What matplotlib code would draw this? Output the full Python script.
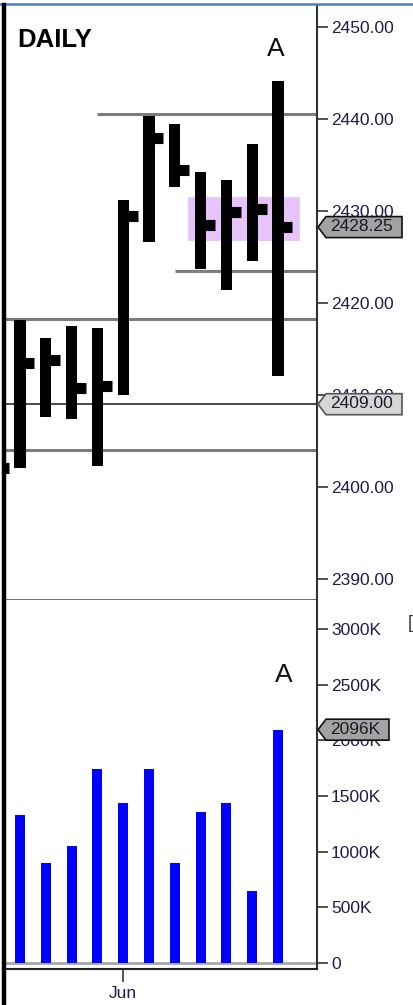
import matplotlib
matplotlib.use("Agg")
import matplotlib.pyplot as plt
from matplotlib.patches import Polygon, Rectangle
from matplotlib.transforms import IdentityTransform
from matplotlib.ticker import FixedLocator, FuncFormatter
from matplotlib.lines import Line2D

plt.rcParams['font.family'] = ['Liberation Sans', 'DejaVu Sans']

# ---- data ----
bar_index = [-1, 0, 1, 2, 3, 4, 5, 6, 7, 8, 9, 10]
highs  = [2404.0, 2418.2, 2416.2, 2417.5, 2417.3, 2431.2, 2440.3, 2439.5, 2434.2, 2433.4, 2437.3, 2444.1]
lows   = [2399.0, 2402.1, 2407.6, 2407.4, 2402.3, 2410.0, 2426.6, 2432.6, 2423.7, 2421.4, 2424.6, 2412.1]
closes = [2402.1, 2413.5, 2413.8, 2410.8, 2411.0, 2429.5, 2437.9, 2434.5, 2428.5, 2429.9, 2430.2, 2428.25]

vol_index = [0, 1, 2, 3, 4, 5, 6, 7, 8, 9, 10]
volumes_k = [1330, 896, 1051, 1742, 1440, 1742, 896, 1359, 1440, 650, 2096]

level_prices = [2440.5, 2423.5, 2418.25, 2404.0]
level_starts = [3, 6, None, None]
pivot_price = 2409.0
zone_low, zone_high = 2426.75, 2431.5
zone_start, zone_end = 6.5, 10.85

price_ticks = [2390, 2400, 2410, 2420, 2430, 2440, 2450]
vol_ticks = [0, 500, 1000, 1500, 2000, 2500, 3000]
xtick_pos = [4]
xtick_labels = ['Jun']

last_close_label = '2428.25'
pivot_label = '2409.00'
last_vol_label = '2096K'

# ---- figure ----
W, H = 414, 1005
fig = plt.figure(figsize=(W / 100, H / 100), dpi=100)
fig.patch.set_facecolor('white')

def px_axes(x0, y0, x1, y1):
    return fig.add_axes([x0 / W, 1 - y1 / H, (x1 - x0) / W, (y1 - y0) / H])

ax = px_axes(5, 5, 317, 600)
axv = px_axes(5, 600, 317, 969)

xlim = (-0.581, 11.51)
tick_color = '#1c1c50'
lab_fs = 12.5

for a in (ax, axv):
    a.set_xlim(*xlim)
    a.set_facecolor('white')
    a.yaxis.tick_right()
    a.tick_params(axis='y', direction='out', length=8, width=1.2, color='#333333',
                  labelsize=lab_fs, labelcolor=tick_color, pad=2)
    for s in ('left', 'top'):
        a.spines[s].set_visible(False)
    a.spines['right'].set_color('#333333')
    a.spines['right'].set_linewidth(1.5)

# ---- price panel ----
ax.set_ylim(2387.72, 2452.39)
ax.yaxis.set_major_locator(FixedLocator(price_ticks))
ax.yaxis.set_major_formatter(FuncFormatter(lambda v, p: f'{v:.2f}'))
ax.set_xticks([])
ax.spines['bottom'].set_color('#555555')
ax.spines['bottom'].set_linewidth(1.2)

ax.add_patch(Rectangle((zone_start, zone_low), zone_end - zone_start, zone_high - zone_low,
                       facecolor='#e6c3fb', edgecolor='none', zorder=1))

for lvl, st in zip(level_prices, level_starts):
    x0 = xlim[0] if st is None else st
    ax.hlines(lvl, x0, xlim[1], color='#7c7c7c', lw=2.2, zorder=2)
ax.hlines(pivot_price, xlim[0], xlim[1], color='#2a2a2a', lw=1.2, zorder=2)

for i, h, l, c in zip(bar_index, highs, lows, closes):
    ax.bar(i, h - l, bottom=l, width=0.43, color='black', zorder=3)
    ax.hlines(c, i, i + 0.56, color='black', lw=8, capstyle='butt', zorder=3)

# ---- volume panel ----
axv.set_ylim(-54, 3261)
axv.yaxis.set_major_locator(FixedLocator(vol_ticks))
axv.yaxis.set_major_formatter(FuncFormatter(lambda v, p: '0' if v == 0 else f'{v:.0f}K'))
axv.bar(vol_index, volumes_k, width=0.39, color='#0000ff', zorder=3)
axv.axhline(0, color='#a8a8a8', lw=2, zorder=2)
axv.spines['top'].set_color('#555555')
axv.spines['top'].set_linewidth(1.0)
axv.spines['bottom'].set_color('#222222')
axv.spines['bottom'].set_linewidth(1.5)
axv.set_xticks(xtick_pos)
axv.set_xticklabels(xtick_labels)
axv.tick_params(axis='x', direction='out', length=9, width=1.2, color='#333333',
                labelsize=lab_fs, labelcolor=tick_color, pad=3)

fig.canvas.draw()

# text annotations (pixel positions from top-left)
fig.text(17 / W, 1 - 40 / H, 'DAILY', fontsize=18.5, fontweight='bold',
         ha='left', va='center', color='black')
fig.text(276 / W, 1 - 49 / H, 'A', fontsize=19, ha='center', va='center', color='#111111')
fig.text(284 / W, 1 - 675 / H, 'A', fontsize=19, ha='center', va='center', color='#111111')
fig.text(408 / W, 1 - 623 / H, '[', fontsize=13, ha='left', va='center', color='#333333')

def flag(axis, yval, text, face, edge, width):
    xr = axis.transAxes.transform((1, 0))[0]
    yc = axis.transData.transform((0, yval))[1]
    hh = 10.5
    verts = [(xr + 1, yc), (xr + 9, yc + hh), (xr + width, yc + hh),
             (xr + width, yc - hh), (xr + 9, yc - hh)]
    fig.add_artist(Polygon(verts, closed=True, facecolor=face, edgecolor=edge, lw=1.2,
                           transform=IdentityTransform(), zorder=5))
    t = fig.text(0, 0, text, fontsize=lab_fs, color='#1a1a2a', ha='left', va='center',
                 zorder=6)
    t.set_transform(IdentityTransform())
    t.set_position((xr + 13, yc + 0.5))

flag(ax, closes[-1], last_close_label, '#a2a2a2', '#111111', 85)
flag(ax, pivot_price, pivot_label, '#d6d6d6', '#555555', 85)
flag(axv, volumes_k[-1], last_vol_label, '#a2a2a2', '#111111', 72)

# frame decorations
fig.add_artist(Line2D([0, 1], [1 - 4.5 / H, 1 - 4.5 / H], color='#4a7ec4', lw=1.8,
                      transform=fig.transFigure))
fig.add_artist(Line2D([4 / W, 4 / W], [0, 1 - 5 / H], color='black', lw=3.2,
                      transform=fig.transFigure))

fig.savefig('out.png', dpi=100, facecolor='white')
